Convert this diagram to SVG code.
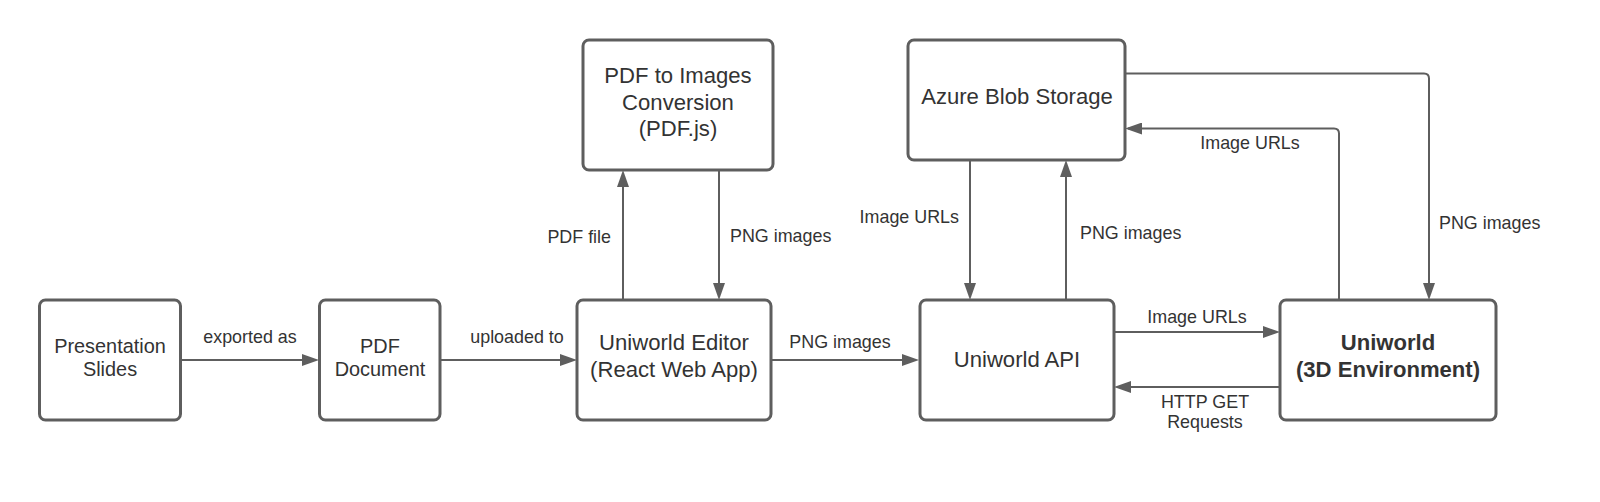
<svg xmlns="http://www.w3.org/2000/svg" width="1600" height="502" viewBox="0 0 1600 502">
<style>
.box{fill:#ffffff;stroke:#5e5e5e;stroke-width:3}
.n{font-family:"Liberation Sans",Arial,sans-serif;font-size:22.1px;fill:#333333;text-anchor:middle}
.s{font-family:"Liberation Sans",Arial,sans-serif;font-size:19.9px;fill:#333333;text-anchor:middle}
.b{font-family:"Liberation Sans",Arial,sans-serif;font-size:22.1px;font-weight:bold;fill:#333333;text-anchor:middle}
.l{font-family:"Liberation Sans",Arial,sans-serif;font-size:17.9px;fill:#333333}
.c{fill:none;stroke:#5e5e5e;stroke-width:2}
</style>
<defs>
<marker id="ah" viewBox="0 0 17 12" refX="14" refY="6" markerWidth="17" markerHeight="12" markerUnits="userSpaceOnUse" orient="auto">
<path d="M0,0 L17,6 L0,12 Z" fill="#5e5e5e"/>
</marker>
</defs>
<rect width="1600" height="502" fill="#ffffff"/>
<g id="connectors">
<path class="c" d="M181,360 H316" marker-end="url(#ah)"/>
<path class="c" d="M440,360 H574" marker-end="url(#ah)"/>
<path class="c" d="M623,300 V173" marker-end="url(#ah)"/>
<path class="c" d="M719,170 V297" marker-end="url(#ah)"/>
<path class="c" d="M771,360 H916" marker-end="url(#ah)"/>
<path class="c" d="M970,160 V297" marker-end="url(#ah)"/>
<path class="c" d="M1066,300 V163" marker-end="url(#ah)"/>
<path class="c" d="M1114,332 H1277" marker-end="url(#ah)"/>
<path class="c" d="M1280,387 H1117" marker-end="url(#ah)"/>
<path class="c" d="M1339,300 V133.5 Q1339,128.5 1334,128.5 H1128" marker-end="url(#ah)"/>
<path class="c" d="M1125,73.5 H1424 Q1429,73.5 1429,78.5 V297" marker-end="url(#ah)"/>
<text class="l" x="250" y="343" text-anchor="middle">exported as</text>
<text class="l" x="517" y="343" text-anchor="middle">uploaded to</text>
<text class="l" x="611" y="243" text-anchor="end">PDF file</text>
<text class="l" x="730" y="242">PNG images</text>
<text class="l" x="840" y="348" text-anchor="middle">PNG images</text>
<text class="l" x="959" y="223" text-anchor="end">Image URLs</text>
<text class="l" x="1080" y="239">PNG images</text>
<text class="l" x="1250" y="149" text-anchor="middle">Image URLs</text>
<text class="l" x="1439" y="229">PNG images</text>
<text class="l" x="1197" y="323" text-anchor="middle">Image URLs</text>
<text class="l" x="1205" y="408" text-anchor="middle">HTTP GET</text>
<text class="l" x="1205" y="428" text-anchor="middle">Requests</text>
</g>
<g id="presentation-slides">
<rect class="box" x="39.5" y="300" width="141" height="120" rx="6"/>
<text class="s" x="110" y="352.5">Presentation</text>
<text class="s" x="110" y="376">Slides</text>
</g>
<g id="pdf-document">
<rect class="box" x="319.5" y="300" width="120.5" height="120" rx="6"/>
<text class="s" x="380" y="352.5">PDF</text>
<text class="s" x="380" y="376">Document</text>
</g>
<g id="uniworld-editor">
<rect class="box" x="577" y="300" width="194" height="120" rx="6"/>
<text class="n" x="674" y="350">Uniworld Editor</text>
<text class="n" x="674" y="377">(React Web App)</text>
</g>
<g id="pdf-to-images">
<rect class="box" x="583" y="40" width="190" height="130" rx="6"/>
<text class="n" x="678" y="83">PDF to Images</text>
<text class="n" x="678" y="109.5">Conversion</text>
<text class="n" x="678" y="136">(PDF.js)</text>
</g>
<g id="azure-blob-storage">
<rect class="box" x="908" y="40" width="217" height="120" rx="6"/>
<text class="n" x="1017" y="104">Azure Blob Storage</text>
</g>
<g id="uniworld-api">
<rect class="box" x="920" y="300" width="194" height="120" rx="6"/>
<text class="n" x="1017" y="367">Uniworld API</text>
</g>
<g id="uniworld-3d">
<rect class="box" x="1280" y="300" width="216" height="120" rx="6"/>
<text class="b" x="1388" y="350">Uniworld</text>
<text class="b" x="1388" y="377">(3D Environment)</text>
</g>
</svg>
